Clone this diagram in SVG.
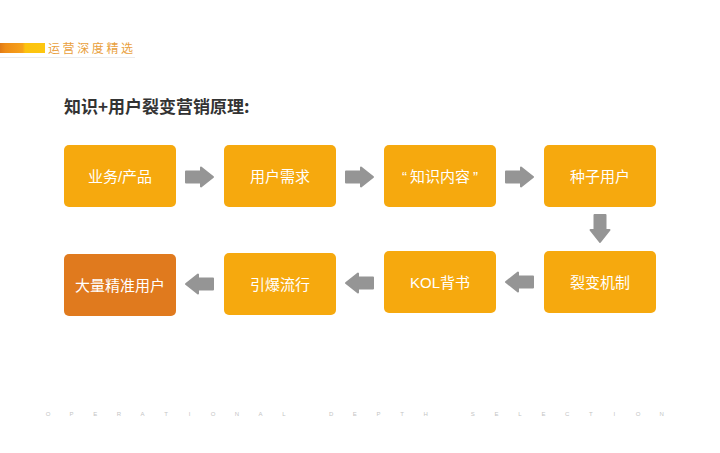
<svg xmlns="http://www.w3.org/2000/svg" xmlns:xlink="http://www.w3.org/1999/xlink" width="720" height="453" viewBox="0 0 720 453">
  <style>
    .box { fill: #f6a90e; }
    .box-dark { fill: #e07a1e; }
    .label { font-family: "Liberation Sans", "Noto Sans CJK SC", sans-serif; font-size: 15px; fill: #ffffff; text-anchor: middle; }
    .arrow { fill: #959595; stroke: #959595; stroke-width: 2; stroke-linejoin: round; }
    .title { font-family: "Noto Sans CJK SC", sans-serif; font-size: 17px; font-weight: bold; fill: #333333; }
    .brand { font-family: "Noto Sans CJK SC", sans-serif; font-size: 12px; fill: #e9a03c; letter-spacing: 2.6px; }
    .footer { font-family: "Liberation Sans", sans-serif; font-size: 6px; fill: #c4c4c4; text-anchor: middle; }
  </style>
  <defs>
    <linearGradient id="barGrad" x1="0" y1="0" x2="1" y2="0">
      <stop offset="0" stop-color="#e07a16"/>
      <stop offset="0.12" stop-color="#ee8c17"/>
      <stop offset="0.5" stop-color="#f7a21a"/>
      <stop offset="0.56" stop-color="#fcc20f"/>
      <stop offset="1" stop-color="#fdc70f"/>
    </linearGradient>
    <path id="arrowR" d="M1,-5.5 H16 V-9.5 L28,0 L16,9.5 V5.5 H1 Z"/>
  </defs>

  <rect width="720" height="453" fill="#ffffff"/>

  <!-- header -->
  <g id="header">
    <rect x="0" y="43" width="45" height="10" fill="url(#barGrad)"/>
    <text class="brand" x="48" y="53">运营深度精选</text>
    <line x1="0" y1="57.5" x2="135" y2="57.5" stroke="#ececec" stroke-width="1"/>
  </g>

  <text class="title" x="64" y="113">知识+用户裂变营销原理:</text>

  <!-- nodes -->
  <g id="node-business">
    <rect class="box" x="64" y="145" width="112" height="62" rx="5"/>
    <text class="label" x="120" y="181.5">业务/产品</text>
  </g>
  <g id="node-demand">
    <rect class="box" x="224" y="145" width="112" height="62" rx="5"/>
    <text class="label" x="280" y="181.5">用户需求</text>
  </g>
  <g id="node-content">
    <rect class="box" x="384" y="145" width="112" height="62" rx="5"/>
    <text class="label" x="440" y="181.5">“<tspan dx="3">知识内容</tspan><tspan dx="3">”</tspan></text>
  </g>
  <g id="node-seed">
    <rect class="box" x="544" y="145" width="112" height="62" rx="5"/>
    <text class="label" x="600" y="181.5">种子用户</text>
  </g>
  <g id="node-fission">
    <rect class="box" x="544" y="251" width="112" height="62" rx="5"/>
    <text class="label" x="600" y="287.5">裂变机制</text>
  </g>
  <g id="node-kol">
    <rect class="box" x="384" y="251" width="112" height="62" rx="5"/>
    <text class="label" x="440" y="287.5">KOL背书</text>
  </g>
  <g id="node-viral">
    <rect class="box" x="224" y="253" width="112" height="62" rx="5"/>
    <text class="label" x="280" y="289.5">引爆流行</text>
  </g>
  <g id="node-users">
    <rect class="box-dark" x="64" y="254" width="112" height="62" rx="5"/>
    <text class="label" x="120" y="290.5">大量精准用户</text>
  </g>

  <!-- connectors -->
  <g id="connectors" class="arrow">
    <use xlink:href="#arrowR" transform="translate(185,177)"/>
    <use xlink:href="#arrowR" transform="translate(345,177)"/>
    <use xlink:href="#arrowR" transform="translate(505,177)"/>
    <use xlink:href="#arrowR" transform="translate(600,214) rotate(90)"/>
    <use xlink:href="#arrowR" transform="translate(534,282) rotate(180)"/>
    <use xlink:href="#arrowR" transform="translate(374,283) rotate(180)"/>
    <use xlink:href="#arrowR" transform="translate(214,284) rotate(180)"/>
  </g>

  <!-- footer -->
  <text class="footer" y="416" x="48 71.6 95.2 118.8 142.4 166 189.6 213.2 236.8 260.4 284 307.6 331.2 354.8 378.4 402 425.6 449.2 472.8 496.4 520 543.6 567.2 590.8 614.4 638 661.6">OPERATIONAL DEPTH SELECTION</text>
</svg>
